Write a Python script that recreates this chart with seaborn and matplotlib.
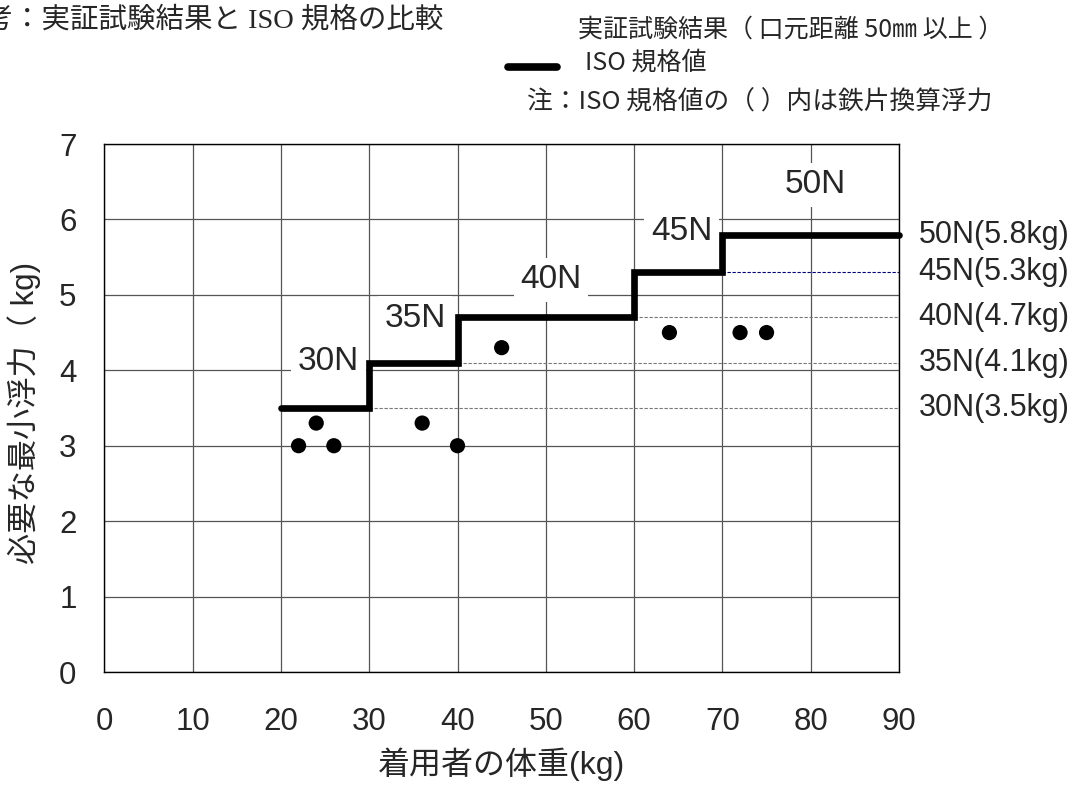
import matplotlib
matplotlib.use("Agg")
import matplotlib.pyplot as plt
from matplotlib.lines import Line2D
import seaborn as sns
import pandas as pd

# test results (body weight kg, minimum buoyancy kg)
test_weight = [22, 24, 26, 36, 40, 45, 64, 72, 75]
test_buoyancy = [3.0, 3.3, 3.0, 3.3, 3.0, 4.3, 4.5, 4.5, 4.5]

# ISO standard step (weight breakpoints, buoyancy kg)
iso_weight = [20, 30, 40, 60, 70, 90]
iso_buoyancy = [3.5, 4.1, 4.7, 5.3, 5.8, 5.8]

# dotted reference lines from each step corner to the right edge
ref_start = [30, 40, 60, 70]
ref_level = [3.5, 4.1, 4.7, 5.3]
ref_color = ["#777777", "#777777", "#777777", "#000080"]

# step labels inside the plot
step_names = ["30N", "35N", "40N", "45N", "50N"]
step_label_x = [25.4, 35.2, 50.6, 65.4, 80.5]
step_label_y = [4.12, 4.69, 5.2, 5.84, 6.46]

# right side labels
right_labels = ["50N(5.8kg)", "45N(5.3kg)", "40N(4.7kg)", "35N(4.1kg)", "30N(3.5kg)"]
right_label_y = [5.8, 5.3, 4.7, 4.1, 3.5]

x_ticks = list(range(0, 100, 10))
y_ticks = list(range(0, 8))

sns.set_style("white")
plt.rcParams["font.family"] = ["Liberation Sans", "Noto Sans CJK JP"]
cjk = ["Noto Sans CJK JP", "DejaVu Sans"]

fig = plt.figure(figsize=(10.9, 7.89), dpi=100)
ax = fig.add_axes([104.3 / 1090, 1 - 672 / 789, (899 - 104.3) / 1090, (672 - 144) / 789])

ax.set_xlim(0, 90)
ax.set_ylim(0, 7)
ax.set_xticks(x_ticks)
ax.set_yticks(y_ticks)
ax.grid(True, color="#555555", linewidth=0.9)
ax.set_axisbelow(True)
for sp in ax.spines.values():
    sp.set_visible(True)
    sp.set_color("black")
    sp.set_linewidth(1.0)
ax.tick_params(length=0, labelsize=22.5)
ax.tick_params(axis="x", pad=25)
ax.tick_params(axis="y", pad=20)

for xs, yv, c in zip(ref_start, ref_level, ref_color):
    ax.hlines(yv, xs, 90, colors=c, linestyles=(0, (3, 1.5)), linewidth=0.8, zorder=2)

iso_df = pd.DataFrame({"w": iso_weight, "b": iso_buoyancy})
sns.lineplot(data=iso_df, x="w", y="b", drawstyle="steps-post", estimator=None,
             color="black", linewidth=4.8, solid_capstyle="round",
             solid_joinstyle="miter", clip_on=False, zorder=4, ax=ax)

test_df = pd.DataFrame({"w": test_weight, "b": test_buoyancy})
sns.scatterplot(data=test_df, x="w", y="b", color="black", s=120,
                edgecolor="none", zorder=5, ax=ax)

for name, lx, ly in zip(step_names, step_label_x, step_label_y):
    ax.text(lx, ly, name, fontsize=24, ha="center", va="center", zorder=3,
            bbox=dict(boxstyle="square,pad=0.2", facecolor="white", edgecolor="none"))

for lab, ly in zip(right_labels, right_label_y):
    ax.text(92.2, ly, lab, fontsize=22, ha="left", va="center", clip_on=False)

ax.set_xlabel("着用者の体重(kg)", fontsize=23, labelpad=8)
ax.set_ylabel("必要な最小浮力（ kg)", fontsize=22.5)
ax.yaxis.set_label_coords(-0.08, 0.49)

# title, cut off at the left edge as in the source
fig.text(-44 / 1090, 1 - 20 / 789, "参考：実証試験結果と ISO 規格の比較",
         fontsize=20.5, va="center", ha="left",
         family=["Liberation Serif", "Noto Sans CJK JP"])

# legend block
fig.text(578 / 1090, 1 - 30 / 789, "実証試験結果（ 口元距離 50㎜ 以上 ）",
         fontsize=18, va="center", ha="left", family=cjk)
fig.add_artist(Line2D([508 / 1090, 557 / 1090], [1 - 67 / 789, 1 - 67 / 789],
                      color="black", linewidth=5.5, transform=fig.transFigure))
fig.text(585 / 1090, 1 - 63 / 789, "ISO 規格値",
         fontsize=18, va="center", ha="left", family=cjk)
fig.text(527 / 1090, 1 - 103 / 789, "注：ISO 規格値の（ ）内は鉄片換算浮力",
         fontsize=18.5, va="center", ha="left", family=cjk)

fig.savefig("out.png", dpi=100)
